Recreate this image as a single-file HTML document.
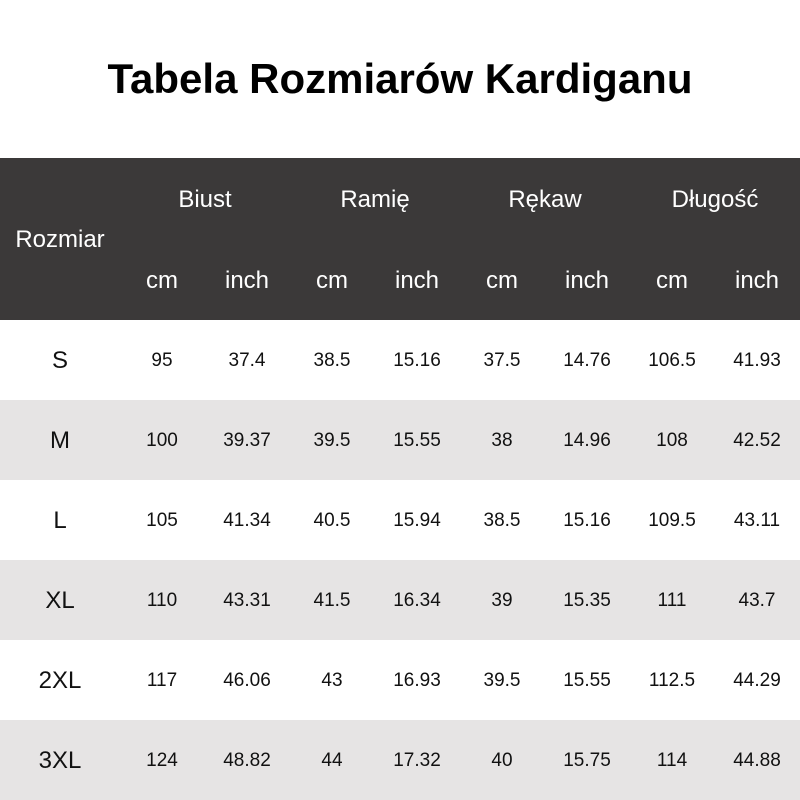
<!DOCTYPE html>
<html><head><meta charset="utf-8"><style>
html,body{margin:0;padding:0;background:#fff}
body{width:800px;height:800px;position:relative;overflow:hidden;font-family:"Liberation Sans",Arial,sans-serif}
.t{position:absolute;transform:translate(-50%,-50%);white-space:nowrap}
.title{left:400px;top:79px;font-size:42px;font-weight:bold;color:#000}
.hdr{position:absolute;left:0;top:158px;width:800px;height:162px;background:#3b3939}
.row{position:absolute;left:0;width:800px;height:80px}
.g{background:#e6e4e4}
.h{color:#fff;font-size:24px}
.d{color:#111;font-size:19px}
.s{color:#111;font-size:24px}
</style></head><body>
<div class="t title">Tabela Rozmiarów Kardiganu</div>
<div class="hdr"></div>
<div class="row g" style="top:400px"></div>
<div class="row g" style="top:560px"></div>
<div class="row g" style="top:720px"></div>
<div class="t h" style="left:205px;top:200px">Biust</div>
<div class="t h" style="left:375px;top:200px">Ramię</div>
<div class="t h" style="left:545px;top:200px">Rękaw</div>
<div class="t h" style="left:715px;top:200px">Długość</div>
<div class="t h" style="left:60px;top:240px">Rozmiar</div>
<div id="sub"></div>
<script>
var xs=[162,247,332,417,502,587,672,757];
var out='';
for(var i=0;i<8;i++){out+='<div class="t h" style="left:'+xs[i]+'px;top:281px">'+(i%2?'inch':'cm')+'</div>';}
var rows=[["S","95","37.4","38.5","15.16","37.5","14.76","106.5","41.93"],
["M","100","39.37","39.5","15.55","38","14.96","108","42.52"],
["L","105","41.34","40.5","15.94","38.5","15.16","109.5","43.11"],
["XL","110","43.31","41.5","16.34","39","15.35","111","43.7"],
["2XL","117","46.06","43","16.93","39.5","15.55","112.5","44.29"],
["3XL","124","48.82","44","17.32","40","15.75","114","44.88"]];
for(var r=0;r<6;r++){var y=361+80*r;
out+='<div class="t s" style="left:60px;top:'+y+'px">'+rows[r][0]+'</div>';
for(var c=0;c<8;c++)out+='<div class="t d" style="left:'+xs[c]+'px;top:'+y+'px">'+rows[r][c+1]+'</div>';}
document.getElementById('sub').innerHTML=out;
</script>
</body></html>
